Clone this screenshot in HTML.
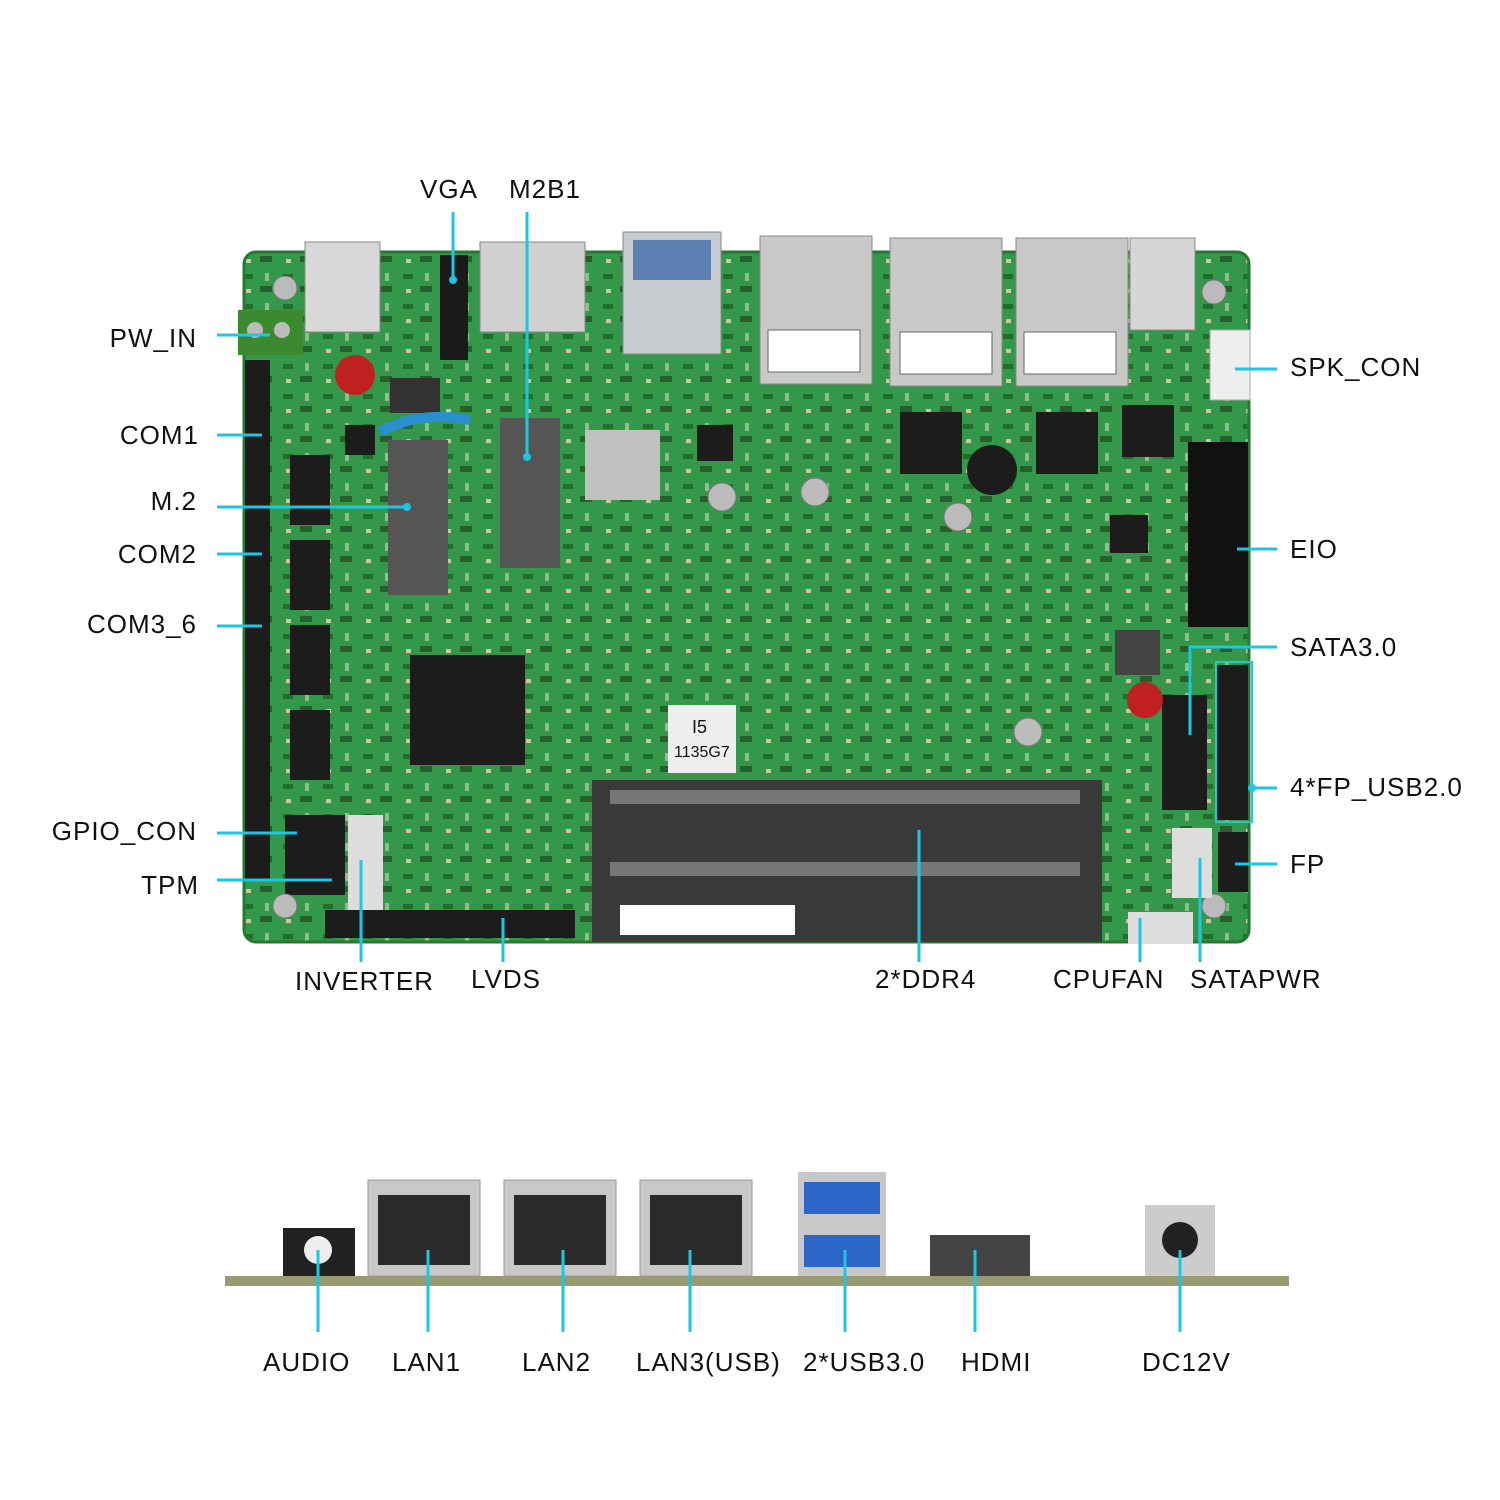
<!DOCTYPE html>
<html><head><meta charset="utf-8"><style>
html,body{margin:0;padding:0;background:#fff}
svg{display:block}
text{font-family:"Liberation Sans",sans-serif;font-size:26px;fill:#111;letter-spacing:1px}
</style></head><body>
<svg width="1500" height="1500" viewBox="0 0 1500 1500" xmlns="http://www.w3.org/2000/svg">
<defs>
<pattern id="tex" width="40" height="30" patternUnits="userSpaceOnUse">
<rect width="40" height="30" fill="#33984a"/>
<rect x="3" y="4" width="10" height="5" fill="#1f6e2c"/>
<rect x="20" y="16" width="12" height="6" fill="#245f2c"/>
<rect x="25" y="3" width="4" height="8" fill="#8fbf8a"/>
<rect x="6" y="19" width="5" height="4" fill="#c9c9a0"/>
</pattern>
</defs>
<!-- board -->
<rect x="244" y="252" width="1005" height="690" rx="12" fill="url(#tex)"/>
<rect x="244" y="252" width="1005" height="690" rx="12" fill="none" stroke="#247a33" stroke-width="3"/>
<!-- top connectors -->
<rect x="305" y="242" width="75" height="90" fill="#d8d8d8" stroke="#888"/>
<rect x="238" y="310" width="65" height="45" fill="#3c8a2f"/>
<circle cx="255" cy="330" r="8" fill="#bbb"/><circle cx="282" cy="330" r="8" fill="#bbb"/>
<rect x="440" y="255" width="28" height="105" fill="#1a1a1a"/>
<rect x="480" y="242" width="105" height="90" fill="#d0d0d0" stroke="#888"/>
<rect x="623" y="232" width="98" height="122" fill="#c8ccd0" stroke="#888"/>
<rect x="633" y="240" width="78" height="40" fill="#5a7fb0"/>
<rect x="760" y="236" width="112" height="148" fill="#c9c9c9" stroke="#888"/>
<rect x="890" y="238" width="112" height="148" fill="#c9c9c9" stroke="#888"/>
<rect x="1016" y="238" width="112" height="148" fill="#c9c9c9" stroke="#888"/>
<g fill="#fff" stroke="#666"><rect x="768" y="330" width="92" height="42"/><rect x="900" y="332" width="92" height="42"/><rect x="1024" y="332" width="92" height="42"/></g>
<rect x="1130" y="238" width="65" height="92" fill="#d6d6d6" stroke="#888"/>
<rect x="1210" y="330" width="40" height="70" fill="#eee" stroke="#aaa"/>
<!-- chips -->
<g fill="#1c1c1c">
<rect x="410" y="655" width="115" height="110"/>
<rect x="900" y="412" width="62" height="62"/>
<rect x="1036" y="412" width="62" height="62"/>
<rect x="1122" y="405" width="52" height="52"/>
<rect x="1110" y="515" width="38" height="38"/>
<rect x="697" y="425" width="36" height="36"/>
<rect x="290" y="455" width="40" height="70"/>
<rect x="290" y="540" width="40" height="70"/>
<rect x="290" y="625" width="40" height="70"/>
<rect x="290" y="710" width="40" height="70"/>
<rect x="245" y="360" width="25" height="520"/>
<rect x="1215" y="665" width="33" height="155"/>
<rect x="1218" y="832" width="30" height="60"/>
<rect x="285" y="815" width="60" height="80"/>
<rect x="325" y="910" width="250" height="28"/>
<rect x="1188" y="442" width="60" height="185" fill="#111"/>
<rect x="1162" y="695" width="45" height="115"/>
<circle cx="992" cy="470" r="25"/>
<rect x="1115" y="630" width="45" height="45" fill="#444"/>
<rect x="390" y="378" width="50" height="35" fill="#333"/>
<rect x="345" y="425" width="30" height="30"/>
</g>
<rect x="388" y="440" width="60" height="155" fill="#555"/>
<rect x="500" y="418" width="60" height="150" fill="#555"/>
<rect x="585" y="430" width="75" height="70" fill="#c0c0c0"/>
<g fill="#bbb" stroke="#777"><circle cx="722" cy="497" r="14"/><circle cx="815" cy="492" r="14"/><circle cx="958" cy="517" r="14"/><circle cx="1028" cy="732" r="14"/><circle cx="285" cy="288" r="12"/><circle cx="1214" cy="292" r="12"/><circle cx="285" cy="906" r="12"/><circle cx="1214" cy="906" r="12"/></g>
<rect x="668" y="705" width="68" height="68" fill="#eee"/>
<text x="692" y="733" style="font-size:18px;letter-spacing:0">I5</text>
<text x="674" y="757" style="font-size:16px;letter-spacing:0">1135G7</text>
<!-- DDR slot -->
<rect x="592" y="780" width="510" height="162" fill="#3a3a3a"/>
<rect x="610" y="790" width="470" height="14" fill="#777"/>
<rect x="610" y="862" width="470" height="14" fill="#777"/>
<rect x="620" y="905" width="175" height="30" fill="#fff"/>
<rect x="348" y="815" width="35" height="95" fill="#ddd"/>
<rect x="1172" y="828" width="40" height="70" fill="#ddd"/>
<rect x="1128" y="912" width="65" height="32" fill="#ddd"/>
<circle cx="355" cy="375" r="20" fill="#c02020"/>
<circle cx="1145" cy="700" r="18" fill="#c02020"/>
<path d="M380 432 Q420 410 470 420" stroke="#2a8fd0" stroke-width="10" fill="none"/>
<!-- bottom -->
<rect x="225" y="1276" width="1064" height="10" fill="#9a9a70"/>
<rect x="283" y="1228" width="72" height="48" fill="#222"/><circle cx="318" cy="1250" r="14" fill="#eee"/>
<g fill="#c8c8c8" stroke="#999"><rect x="368" y="1180" width="112" height="96"/><rect x="504" y="1180" width="112" height="96"/><rect x="640" y="1180" width="112" height="96"/></g>
<g fill="#2a2a2a"><rect x="378" y="1195" width="92" height="70"/><rect x="514" y="1195" width="92" height="70"/><rect x="650" y="1195" width="92" height="70"/></g>
<rect x="798" y="1172" width="88" height="104" fill="#c8c8c8"/>
<rect x="804" y="1182" width="76" height="32" fill="#2b66c8"/><rect x="804" y="1235" width="76" height="32" fill="#2b66c8"/>
<rect x="930" y="1235" width="100" height="41" fill="#444"/>
<rect x="1145" y="1205" width="70" height="71" fill="#ccc"/><circle cx="1180" cy="1240" r="18" fill="#222"/>
<!-- leader lines -->
<g stroke="#1ec6e2" stroke-width="3" fill="none">
<path d="M453 212V280M527 212V457M217 335H270M217 435H262M217 507H407M217 554H262M217 626H262M217 833H297M217 880H332M361 860V962M503 918V962M919 830V962M1140 918V962M1200 858V962M1235 369H1277M1237 549H1277M1190 735V647H1277M1252 788H1277M1235 864H1277"/>
<rect x="1216" y="662" width="36" height="160" stroke-width="2"/>
<path d="M318 1250V1332M428 1250V1332M563 1250V1332M690 1250V1332M845 1250V1332M975 1250V1332M1180 1250V1332"/>
</g>
<g fill="#1ec6e2"><circle cx="453" cy="280" r="4"/><circle cx="527" cy="457" r="4"/><circle cx="407" cy="507" r="4"/><circle cx="1252" cy="788" r="4"/></g>
<!-- labels -->
<text x="420" y="198">VGA</text><text x="509" y="198">M2B1</text>
<g text-anchor="end"><text x="197" y="347">PW_IN</text><text x="199" y="444">COM1</text><text x="197" y="510">M.2</text><text x="197" y="563">COM2</text><text x="197" y="633">COM3_6</text><text x="197" y="840">GPIO_CON</text><text x="199" y="894">TPM</text></g>
<text x="295" y="990">INVERTER</text><text x="471" y="988">LVDS</text><text x="875" y="988">2*DDR4</text><text x="1053" y="988">CPUFAN</text><text x="1190" y="988">SATAPWR</text>
<text x="1290" y="376">SPK_CON</text><text x="1290" y="558">EIO</text><text x="1290" y="656">SATA3.0</text><text x="1290" y="796">4*FP_USB2.0</text><text x="1290" y="873">FP</text>
<text x="263" y="1371">AUDIO</text><text x="392" y="1371">LAN1</text><text x="522" y="1371">LAN2</text><text x="636" y="1371">LAN3(USB)</text><text x="803" y="1371">2*USB3.0</text><text x="961" y="1371">HDMI</text><text x="1142" y="1371">DC12V</text>
</svg>
</body></html>
